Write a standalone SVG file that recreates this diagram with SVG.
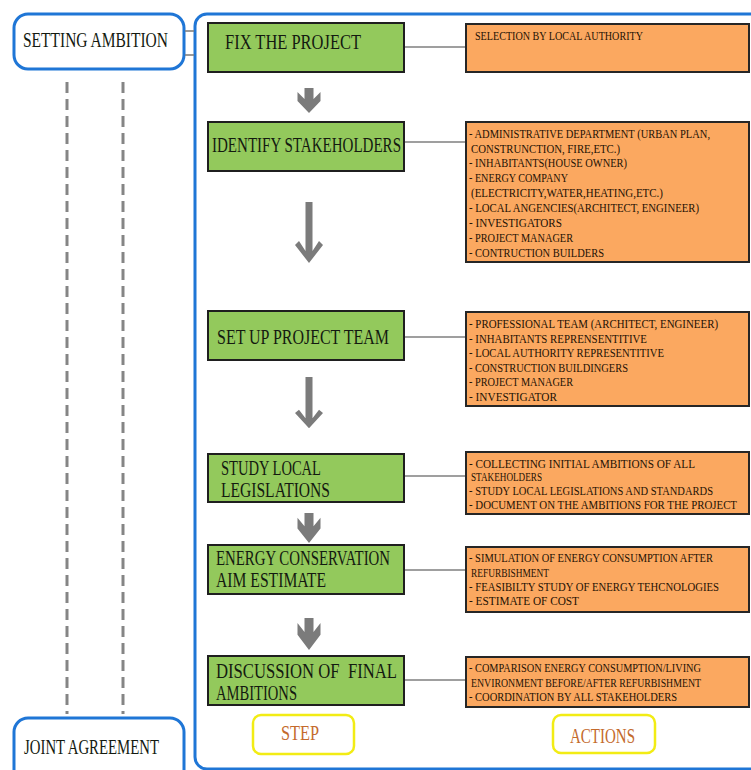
<svg xmlns="http://www.w3.org/2000/svg" xmlns:xlink="http://www.w3.org/1999/xlink" width="751" height="770" viewBox="0 0 751 770">
  <style>
    .frame { fill: #ffffff; stroke: #1f76d6; stroke-width: 3; }
    .step { fill: #93c95c; stroke: #1f1f1f; stroke-width: 2; }
    .act { fill: #fba860; stroke: #262626; stroke-width: 2; }
    .tag { fill: #ffffff; stroke: #f2ec14; stroke-width: 2.5; }
    .link { stroke: #7f7f7f; stroke-width: 1.6; fill: none; }
    .dash { stroke: #858585; stroke-width: 3; stroke-dasharray: 11 6; fill: none; }
    .arrow { fill: #7b7b7b; }
    .big { font-family: "Liberation Serif", "DejaVu Serif", serif; font-size: 21px; fill: #141a10; }
    .small { font-family: "Liberation Serif", "DejaVu Serif", serif; font-size: 12.5px; fill: #1e1204; }
    .tight { font-size: 12px; }
    .tagtxt { font-family: "Liberation Serif", "DejaVu Serif", serif; font-size: 21px; fill: #c46a2c; }
  </style>
  <defs>
    <!-- short chevron arrow, tip 25px below its origin -->
    <path id="shortArrow" d="M-4.5 0 H4.5 V11 L11.5 4 V13 L0 25 L-11.5 13 V4 L-4.5 11 Z"/>
    <!-- long arrow, tip 61px below its origin -->
    <path id="longArrow" d="M-3.5 0 H3.5 V49 L10 39 L14 43 L0 61 L-14 43 L-10 39 L-3.5 49 Z"/>
  </defs>

  <rect width="751" height="770" fill="#ffffff"/>

  <!-- phase column -->
  <g id="phase-lines">
    <line class="dash" x1="67" y1="82" x2="67" y2="714"/>
    <line class="dash" x1="123" y1="82" x2="123" y2="714"/>
  </g>

  <g id="setting-ambition">
    <rect class="frame" x="14" y="14" width="170" height="55" rx="14"/>
    <text class="big" x="23" y="47" textLength="145" lengthAdjust="spacingAndGlyphs">SETTING AMBITION</text>
  </g>

  <g id="joint-agreement">
    <rect class="frame" x="14" y="718" width="170" height="70" rx="14"/>
    <text class="big" x="24" y="754" textLength="135" lengthAdjust="spacingAndGlyphs">JOINT AGREEMENT</text>
  </g>

  <!-- process frame -->
  <g id="process-frame">
    <rect class="frame" x="195" y="14" width="600" height="755" rx="12"/>
  </g>

  <!-- connectors -->
  <g id="connectors">
    <line class="link" x1="185" y1="31" x2="194" y2="31"/>
    <line class="link" x1="185" y1="55" x2="194" y2="55"/>
    <line class="link" x1="404" y1="47" x2="466" y2="47"/>
    <line class="link" x1="404" y1="142" x2="466" y2="142"/>
    <line class="link" x1="404" y1="337" x2="466" y2="337"/>
    <line class="link" x1="404" y1="476" x2="466" y2="476"/>
    <line class="link" x1="404" y1="570" x2="466" y2="570"/>
    <line class="link" x1="404" y1="680" x2="466" y2="680"/>
    <use class="arrow" xlink:href="#shortArrow" transform="translate(309,88)"/>
    <use class="arrow" xlink:href="#longArrow" transform="translate(309,202)"/>
    <use class="arrow" xlink:href="#longArrow" transform="translate(309,377) scale(1,0.84)"/>
    <use class="arrow" xlink:href="#shortArrow" transform="translate(309,513) scale(1,1.2)"/>
    <use class="arrow" xlink:href="#shortArrow" transform="translate(309,618) scale(1,1.28)"/>
  </g>

  <!-- steps -->
  <g id="step-fix">
    <rect class="step" x="208" y="23" width="196" height="49"/>
    <text class="big" x="225" y="49" textLength="136" lengthAdjust="spacingAndGlyphs">FIX THE PROJECT</text>
  </g>
  <g id="step-identify">
    <rect class="step" x="208" y="122" width="196" height="49"/>
    <text class="big" x="212" y="152" textLength="189" lengthAdjust="spacingAndGlyphs">IDENTIFY STAKEHOLDERS</text>
  </g>
  <g id="step-team">
    <rect class="step" x="208" y="311" width="196" height="49"/>
    <text class="big" x="217" y="344" textLength="172" lengthAdjust="spacingAndGlyphs">SET UP PROJECT TEAM</text>
  </g>
  <g id="step-legislation">
    <rect class="step" x="208" y="454" width="196" height="48"/>
    <text class="big" x="221" y="475" textLength="100" lengthAdjust="spacingAndGlyphs">STUDY LOCAL</text>
    <text class="big" x="221" y="497" textLength="109" lengthAdjust="spacingAndGlyphs">LEGISLATIONS</text>
  </g>
  <g id="step-energy">
    <rect class="step" x="208" y="545" width="196" height="49"/>
    <text class="big" x="216" y="565" textLength="174" lengthAdjust="spacingAndGlyphs">ENERGY CONSERVATION</text>
    <text class="big" x="216" y="587" textLength="110" lengthAdjust="spacingAndGlyphs">AIM ESTIMATE</text>
  </g>
  <g id="step-discussion">
    <rect class="step" x="208" y="656" width="196" height="49"/>
    <text class="big" x="216" y="678" textLength="181" lengthAdjust="spacingAndGlyphs" xml:space="preserve">DISCUSSION OF  FINAL</text>
    <text class="big" x="216" y="700" textLength="81" lengthAdjust="spacingAndGlyphs">AMBITIONS</text>
  </g>

  <!-- actions -->
  <g id="action-fix">
    <rect class="act" x="466" y="24" width="283" height="48"/>
    <text class="small" x="475" y="40" textLength="168" lengthAdjust="spacingAndGlyphs">SELECTION BY LOCAL AUTHORITY</text>
  </g>
  <g id="action-identify">
    <rect class="act" x="466" y="122" width="283" height="140"/>
    <text class="small" x="469" y="138" textLength="241" lengthAdjust="spacingAndGlyphs">- ADMINISTRATIVE DEPARTMENT (URBAN PLAN,</text>
    <text class="small" x="471" y="152.5" textLength="149" lengthAdjust="spacingAndGlyphs">CONSTRUNCTION, FIRE,ETC.)</text>
    <text class="small" x="469" y="167" textLength="158" lengthAdjust="spacingAndGlyphs">- INHABITANTS(HOUSE OWNER)</text>
    <text class="small" x="469" y="182" textLength="99" lengthAdjust="spacingAndGlyphs">- ENERGY COMPANY</text>
    <text class="small" x="471" y="197" textLength="192" lengthAdjust="spacingAndGlyphs">(ELECTRICITY,WATER,HEATING,ETC.)</text>
    <text class="small" x="469" y="212" textLength="230" lengthAdjust="spacingAndGlyphs">- LOCAL ANGENCIES(ARCHITECT, ENGINEER)</text>
    <text class="small" x="469" y="227" textLength="93" lengthAdjust="spacingAndGlyphs">- INVESTIGATORS</text>
    <text class="small" x="469" y="242" textLength="104" lengthAdjust="spacingAndGlyphs">- PROJECT MANAGER</text>
    <text class="small" x="469" y="256.5" textLength="135" lengthAdjust="spacingAndGlyphs">- CONTRUCTION BUILDERS</text>
  </g>
  <g id="action-team">
    <rect class="act" x="466" y="312" width="283" height="94"/>
    <text class="small" x="469" y="328" textLength="249" lengthAdjust="spacingAndGlyphs">- PROFESSIONAL TEAM (ARCHITECT, ENGINEER)</text>
    <text class="small" x="469" y="342.5" textLength="178" lengthAdjust="spacingAndGlyphs">- INHABITANTS REPRENSENTITIVE</text>
    <text class="small" x="469" y="357" textLength="195" lengthAdjust="spacingAndGlyphs">- LOCAL AUTHORITY REPRESENTITIVE</text>
    <text class="small" x="469" y="371.5" textLength="159" lengthAdjust="spacingAndGlyphs">- CONSTRUCTION BUILDINGERS</text>
    <text class="small" x="469" y="386" textLength="104" lengthAdjust="spacingAndGlyphs">- PROJECT MANAGER</text>
    <text class="small" x="469" y="400.5" textLength="88" lengthAdjust="spacingAndGlyphs">- INVESTIGATOR</text>
  </g>
  <g id="action-legislation">
    <rect class="act" x="466" y="452" width="283" height="62"/>
    <text class="small tight" x="469" y="467.5" textLength="226" lengthAdjust="spacingAndGlyphs">- COLLECTING INITIAL AMBITIONS OF ALL</text>
    <text class="small tight" x="471" y="481" textLength="71" lengthAdjust="spacingAndGlyphs">STAKEHOLDERS</text>
    <text class="small tight" x="469" y="495" textLength="244" lengthAdjust="spacingAndGlyphs">- STUDY LOCAL LEGISLATIONS AND STANDARDS</text>
    <text class="small tight" x="469" y="508.5" textLength="268" lengthAdjust="spacingAndGlyphs">- DOCUMENT ON THE AMBITIONS FOR THE PROJECT</text>
  </g>
  <g id="action-energy">
    <rect class="act" x="466" y="547" width="283" height="65"/>
    <text class="small" x="469" y="562" textLength="244" lengthAdjust="spacingAndGlyphs">- SIMULATION OF ENERGY CONSUMPTION AFTER</text>
    <text class="small" x="471" y="576.5" textLength="78" lengthAdjust="spacingAndGlyphs">REFURBISHMENT</text>
    <text class="small" x="469" y="591" textLength="250" lengthAdjust="spacingAndGlyphs">- FEASIBILTY STUDY OF ENERGY TEHCNOLOGIES</text>
    <text class="small" x="469" y="605" textLength="110" lengthAdjust="spacingAndGlyphs">- ESTIMATE OF COST</text>
  </g>
  <g id="action-discussion">
    <rect class="act" x="466" y="657" width="283" height="50"/>
    <text class="small" x="469" y="672" textLength="232" lengthAdjust="spacingAndGlyphs">- COMPARISON ENERGY CONSUMPTION/LIVING</text>
    <text class="small" x="471" y="686.5" textLength="230" lengthAdjust="spacingAndGlyphs">ENVIRONMENT BEFORE/AFTER REFURBISHMENT</text>
    <text class="small" x="469" y="701" textLength="208" lengthAdjust="spacingAndGlyphs">- COORDINATION BY ALL STAKEHOLDERS</text>
  </g>

  <!-- column labels -->
  <g id="label-step">
    <rect class="tag" x="253" y="715" width="101" height="39" rx="8"/>
    <text class="tagtxt" x="281" y="740" textLength="38" lengthAdjust="spacingAndGlyphs">STEP</text>
  </g>
  <g id="label-actions">
    <rect class="tag" x="553" y="715" width="102" height="38" rx="8"/>
    <text class="tagtxt" x="570" y="743" textLength="65" lengthAdjust="spacingAndGlyphs">ACTIONS</text>
  </g>
</svg>
